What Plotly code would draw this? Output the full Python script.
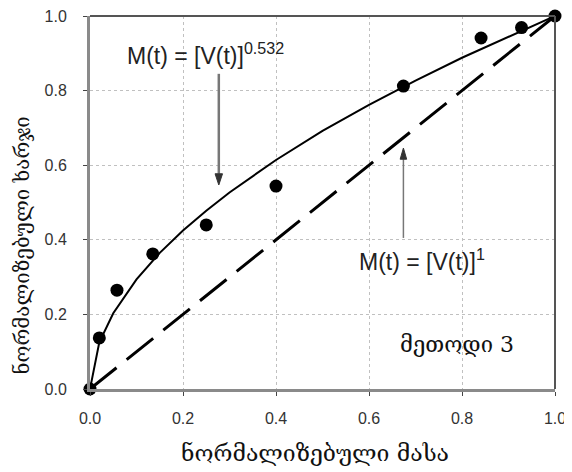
import plotly.graph_objects as go

# observed data points (normalized volume vs normalized mass)
obs_x = [0.0, 0.02, 0.058, 0.135, 0.25, 0.40, 0.674, 0.841, 0.928, 1.0]
obs_y = [0.0, 0.137, 0.265, 0.362, 0.44, 0.544, 0.812, 0.941, 0.969, 1.0]

# fitted curve M = V^0.532
fit_x = [0.0, 0.02, 0.05, 0.1, 0.15, 0.2, 0.25, 0.3, 0.4, 0.5, 0.6, 0.7, 0.8, 0.9, 1.0]
fit_y = [0.0, 0.125, 0.203, 0.294, 0.365, 0.425, 0.478, 0.527, 0.614, 0.692, 0.762, 0.827, 0.888, 0.945, 1.0]

# reference line M = V^1
lin_x = [0.0, 1.0]
lin_y = [0.0, 1.0]

tick_vals = [0.0, 0.2, 0.4, 0.6, 0.8, 1.0]
tick_text = ["0.0", "0.2", "0.4", "0.6", "0.8", "1.0"]

x_title = "ნორმალიზებული მასა"
y_title = "ნორმალიზებული ხარჯი"
method_label = "მეთოდი 3"
fit_label = "M(t) = [V(t)]<sup>0.532</sup>"
lin_label = "M(t) = [V(t)]<sup>1</sup>"

geo_font = "DejaVu Serif"
num_font = "Liberation Sans, Arial, sans-serif"

fig = go.Figure()
fig.add_trace(go.Scatter(x=lin_x, y=lin_y, mode="lines",
                         line=dict(color="black", width=3, dash="34px,13px"),
                         cliponaxis=False, showlegend=False))
fig.add_trace(go.Scatter(x=fit_x, y=fit_y, mode="lines",
                         line=dict(color="black", width=2),
                         cliponaxis=False, showlegend=False))
fig.add_trace(go.Scatter(x=obs_x, y=obs_y, mode="markers",
                         marker=dict(color="black", size=13),
                         cliponaxis=False, showlegend=False))

axis_common = dict(
    range=[0, 1], tickvals=tick_vals, ticktext=tick_text,
    showgrid=True, gridcolor="#c0c0c0", griddash="dot", gridwidth=1,
    zeroline=False, showline=True, linecolor="#8a8a8a", linewidth=3,
    ticks="outside", ticklen=4, tickcolor="#444", tickwidth=1,
    tickfont=dict(family=num_font, size=16, color="#333"),
    ticklabeloverflow="allow",
    fixedrange=True, automargin=False,
)


def arrow(x, y_tail, y_tip, width, color, hw, hh, up):
    """Vertical arrow drawn as line + triangular head (layout shapes)."""
    sgn = 1 if up else -1
    base = y_tip - sgn * hh
    return [
        dict(type="line", xref="x", yref="y", x0=x, x1=x, y0=y_tail, y1=base,
             line=dict(color=color, width=width)),
        dict(type="path", xref="x", yref="y",
             path=f"M {x - hw} {base} L {x + hw} {base} L {x} {y_tip} Z",
             fillcolor="#333", line=dict(color="#333", width=1)),
    ]


shapes = [
    dict(type="line", xref="paper", yref="paper", x0=0, x1=1, y0=1, y1=1,
         line=dict(color="#555", width=2)),
    dict(type="line", xref="paper", yref="paper", x0=1, x1=1, y0=0, y1=1,
         line=dict(color="#555", width=2)),
]
shapes += arrow(0.277, 0.845, 0.547, 2.5, "#777", 0.008, 0.03, up=False)
shapes += arrow(0.674, 0.405, 0.646, 1.5, "#777", 0.007, 0.03, up=True)

fig.update_layout(
    width=564, height=464,
    margin=dict(l=82, r=17, t=8, b=83),
    paper_bgcolor="white", plot_bgcolor="white",
    xaxis=dict(**axis_common, ticklabelstandoff=9),
    yaxis=dict(**axis_common, ticklabelstandoff=13),
    shapes=shapes,
    annotations=[
        dict(x=0.075, y=0.898, xref="x", yref="y", text=fit_label, showarrow=False,
             xanchor="left", yanchor="middle", font=dict(family=num_font, size=23, color="#222")),
        dict(x=0.574, y=0.345, xref="x", yref="y", text=lin_label, showarrow=False,
             xanchor="left", yanchor="middle", font=dict(family=num_font, size=23, color="#222")),
        dict(x=0.662, y=0.118, xref="x", yref="y", text=method_label, showarrow=False,
             xanchor="left", yanchor="middle", font=dict(family=geo_font, size=22, color="#111")),
        dict(x=0.484, y=-0.172, xref="paper", yref="paper", text=x_title, showarrow=False,
             xanchor="center", yanchor="middle", font=dict(family=geo_font, size=23, color="#111")),
        dict(x=-0.146, y=0.385, xref="paper", yref="paper", text=y_title, showarrow=False,
             xanchor="center", yanchor="middle", textangle=-90,
             font=dict(family=geo_font, size=20.5, color="#111")),
    ],
)

fig.write_html("out.html")
